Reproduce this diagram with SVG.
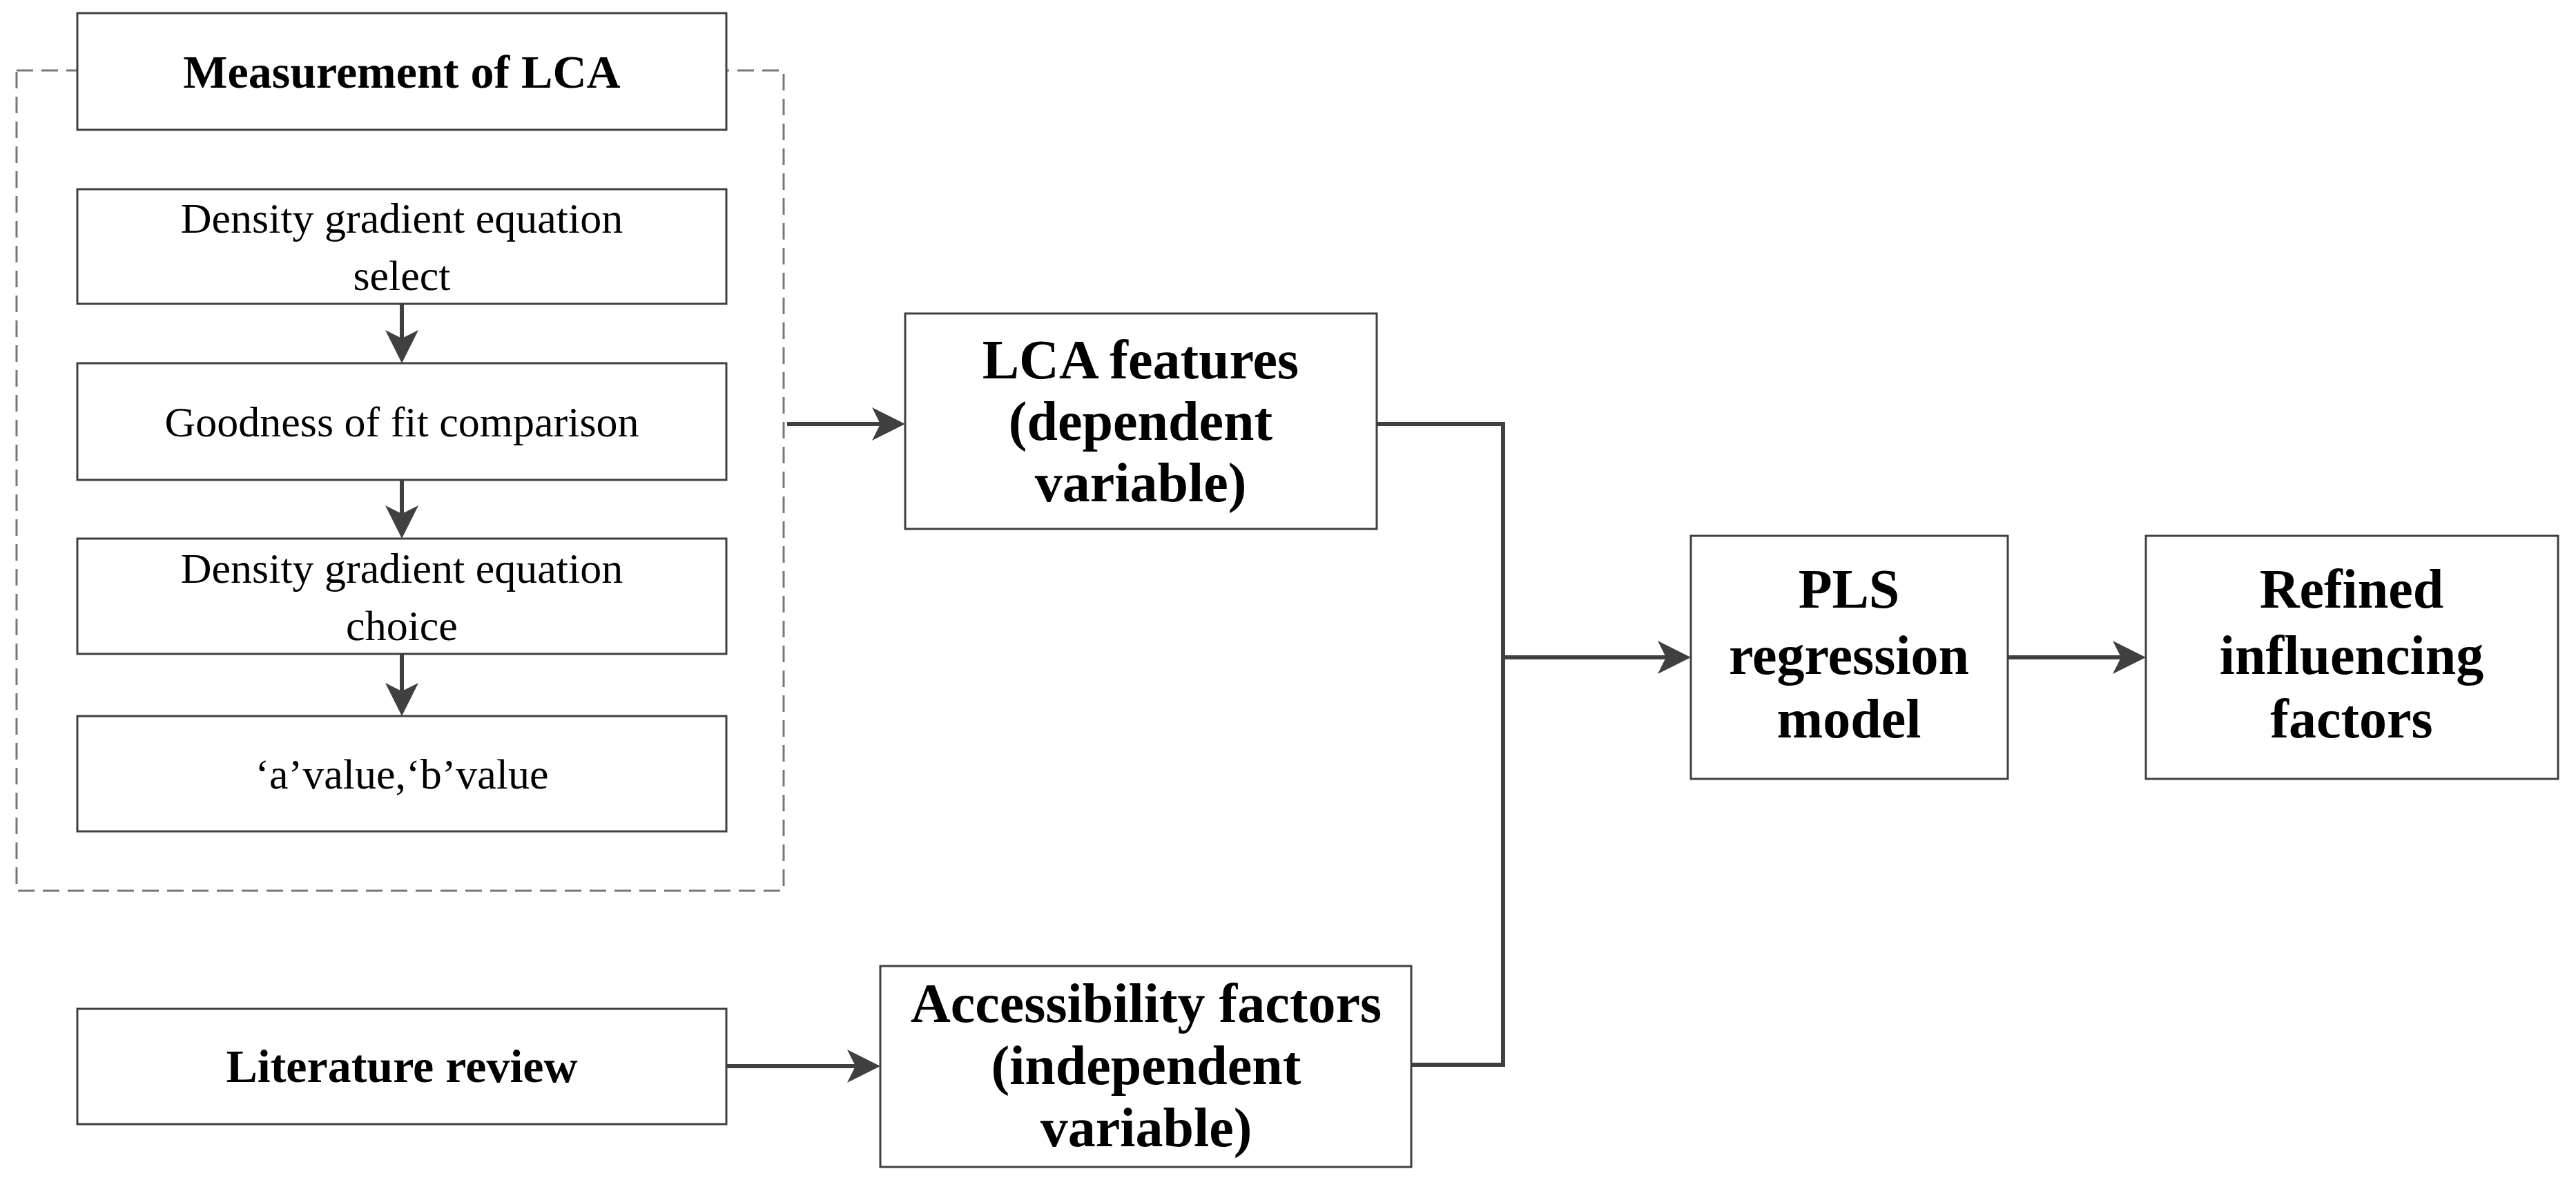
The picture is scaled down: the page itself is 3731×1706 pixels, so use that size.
<svg xmlns="http://www.w3.org/2000/svg" width="3731" height="1706" viewBox="0 0 3731 1706">
<style>
.b{fill:#fff;stroke:#404040;stroke-width:3}
.t{font-family:"Liberation Serif",serif;font-size:62px;fill:#000;text-anchor:middle}
.tb{font-family:"Liberation Serif",serif;font-size:68px;font-weight:bold;fill:#000;text-anchor:middle}
.tc{font-family:"Liberation Serif",serif;font-size:80px;font-weight:bold;fill:#000;text-anchor:middle}
.c{fill:none;stroke:#404040;stroke-width:6}
</style>
<defs><marker id="a" markerWidth="8" markerHeight="8" refX="7" refY="4" orient="auto" markerUnits="strokeWidth"><path d="M0,0 L8,4 L0,8 L2,4 Z" fill="#404040"/></marker></defs>
<rect x="24" y="102" width="1111" height="1188" fill="none" stroke="#777" stroke-width="3" stroke-dasharray="24,12"/>
<g id="measurement"><rect class="b" x="112" y="19" width="940" height="169"/><text class="tb" x="582" y="127">Measurement of LCA</text></g>
<g id="select"><rect class="b" x="112" y="274" width="940" height="166"/><text class="t" x="582" y="337">Density gradient equation</text><text class="t" x="582" y="420">select</text></g>
<g id="goodness"><rect class="b" x="112" y="526" width="940" height="169"/><text class="t" x="582" y="632">Goodness of fit comparison</text></g>
<g id="choice"><rect class="b" x="112" y="780" width="940" height="167"/><text class="t" x="582" y="844">Density gradient equation</text><text class="t" x="582" y="927">choice</text></g>
<g id="ab"><rect class="b" x="112" y="1037" width="940" height="167"/><text class="t" x="582" y="1142">‘a’value,‘b’value</text></g>
<g id="literature"><rect class="b" x="112" y="1461" width="940" height="167"/><text class="tb" x="582" y="1567">Literature review</text></g>
<g id="lca"><rect class="b" x="1311" y="454" width="683" height="312"/><text class="tc" x="1652" y="548">LCA features</text><text class="tc" x="1652" y="637">(dependent</text><text class="tc" x="1652" y="726">variable)</text></g>
<g id="access"><rect class="b" x="1275" y="1399" width="769" height="291"/><text class="tc" x="1660" y="1480">Accessibility factors</text><text class="tc" x="1660" y="1570">(independent</text><text class="tc" x="1660" y="1660">variable)</text></g>
<g id="pls"><rect class="b" x="2449" y="776" width="459" height="352"/><text class="tc" x="2678" y="880">PLS</text><text class="tc" x="2678" y="976">regression</text><text class="tc" x="2678" y="1068">model</text></g>
<g id="refined"><rect class="b" x="3108" y="776" width="597" height="352"/><text class="tc" x="3406" y="880">Refined</text><text class="tc" x="3406" y="976">influencing</text><text class="tc" x="3406" y="1068">factors</text></g>
<g id="connectors">
<line class="c" x1="582" y1="440" x2="582" y2="520" marker-end="url(#a)"/>
<line class="c" x1="582" y1="695" x2="582" y2="774" marker-end="url(#a)"/>
<line class="c" x1="582" y1="947" x2="582" y2="1031" marker-end="url(#a)"/>
<line class="c" x1="1140" y1="614" x2="1305" y2="614" marker-end="url(#a)"/>
<line class="c" x1="1052" y1="1544" x2="1269" y2="1544" marker-end="url(#a)"/>
<polyline class="c" points="1994,614 2177,614 2177,1542 2044,1542"/>
<line class="c" x1="2177" y1="952" x2="2443" y2="952" marker-end="url(#a)"/>
<line class="c" x1="2908" y1="952" x2="3102" y2="952" marker-end="url(#a)"/>
</g>
</svg>
